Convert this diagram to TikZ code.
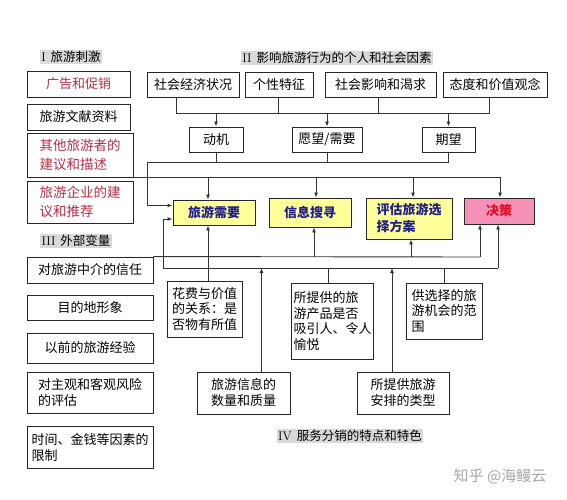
\documentclass[tikz,border=0pt]{standalone}
\usepackage{fontspec}
\newfontfamily\cjk{Noto Sans CJK SC}
\usetikzlibrary{arrows.meta}
\definecolor{boxyellow}{HTML}{FFFF99}
\definecolor{boxblue}{HTML}{1E1E8C}
\definecolor{boxpink}{HTML}{F590B8}
\definecolor{textred}{HTML}{B82C44}
\definecolor{decred}{HTML}{E0102A}
\definecolor{titlegray}{HTML}{D9D9D9}
\begin{document}
\begin{tikzpicture}[x=1pt,y=-1pt,
  box/.style={draw=black!85, line width=0.9pt, inner sep=2pt, align=left, font=\cjk\fontsize{13}{16}\selectfont},
  redbox/.style={box, text=textred},
  title/.style={fill=titlegray, inner sep=1.5pt, font=\cjk\fontsize{12.5}{14}\selectfont},
  mainbox/.style={box, fill=boxyellow, text=boxblue, font=\cjk\bfseries\fontsize{13}{17}\selectfont},
  link/.style={draw=black!80, line width=0.9pt},
  arr/.style={link, -{Latex[length=5pt,width=4pt]}},
]
\useasboundingbox[fill=white] (0,0) rectangle (567,500);

% ---- I stimuli
\node[title] (t1) at (71,57) {\textrm{I}\hspace{0.4em}旅游刺激};
\node[redbox, minimum width=103, minimum height=26] (l1) at (78.5,84) {广告和促销};
\node[box, minimum width=103, minimum height=26] (l2) at (78.5,117) {旅游文献资料};
\node[redbox, minimum width=106, minimum height=44, font=\cjk\fontsize{13.5}{19}\selectfont] (l3) at (80,155) {其他旅游者的\\建议和描述};
\node[redbox, minimum width=106, minimum height=42, font=\cjk\fontsize{13.5}{19}\selectfont] (l4) at (80,202) {旅游企业的建\\议和推荐};

% ---- III external variables
\node[title] (t3) at (76,241) {\textrm{III}\hspace{0.4em}外部变量};
\node[box, minimum width=126, minimum height=26] (e1) at (90,270) {对旅游中介的信任};
\node[box, minimum width=126, minimum height=25] (e2) at (90,307.5) {目的地形象};
\node[box, minimum width=126, minimum height=30] (e3) at (90,348) {以前的旅游经验};
\node[box, minimum width=126, minimum height=41] (e4) at (90,392.5) {对主观和客观风险\\的评估};
\node[box, minimum width=126, minimum height=42] (e5) at (90,447) {时间、金钱等因素的\\限制};

% ---- II personal and social factors
\node[title] (t2) at (337,58) {\textrm{II}\hspace{0.4em}影响旅游行为的个人和社会因素};
\node[box, minimum width=92, minimum height=25] (a1) at (193,84.5) {社会经济状况};
\node[box, minimum width=68, minimum height=25] (a2) at (279,84.5) {个性特征};
\node[box, minimum width=111, minimum height=25] (a3) at (380.5,84.5) {社会影响和渴求};
\node[box, minimum width=104, minimum height=25] (a4) at (495,84.5) {态度和价值观念};

\node[box, minimum width=54, minimum height=25] (m1) at (216,139.5) {动机};
\node[box, minimum width=70, minimum height=25] (m2) at (327,139.5) {愿望/需要};
\node[box, minimum width=53, minimum height=25] (m3) at (448.5,139.5) {期望};

% ---- main process
\node[mainbox, minimum width=82, minimum height=25] (n1) at (214,212.5) {旅游需要};
\node[mainbox, minimum width=82, minimum height=29] (n2) at (310,212.5) {信息搜寻};
\node[mainbox, minimum width=86, minimum height=41] (n3) at (409,218.5) {评估旅游选\\择方案};
\node[mainbox, fill=boxpink, text=decred, minimum width=70, minimum height=26] (n4) at (499,211) {决策};

% ---- IV service distribution
\node[box, minimum width=75, minimum height=56, font=\cjk\fontsize{13}{15.5}\selectfont] (b1) at (204.5,309) {花费与价值\\的关系：是\\否物有所值};
\node[box, minimum width=79, minimum height=76, font=\cjk\fontsize{13}{15.5}\selectfont] (b2) at (332.5,321) {所提供的旅\\游产品是否\\吸引人、令人\\愉悦};
\node[box, minimum width=76, minimum height=56, font=\cjk\fontsize{13}{15.5}\selectfont] (b3) at (444,311) {供选择的旅\\游机会的范\\围};
\node[box, minimum width=93, minimum height=42] (c1) at (243.5,393) {旅游信息的\\数量和质量};
\node[box, minimum width=92, minimum height=42] (c2) at (403,393) {所提供旅游\\安排的类型};
\node[title] (t4) at (350,436) {\textrm{IV}\hspace{0.4em}服务分销的特点和特色};

\node[font=\cjk\fontsize{15}{17}\selectfont, text=black!35] (wm) at (500,476) {知乎 @海鳗云};

% ---- top bus
\coordinate (tbL) at (176,113);
\coordinate (tb2) at (278,113);
\coordinate (tb3) at (378,113);
\coordinate (tbR) at (489,113);
\draw[link] (tbL |- a1.south) -- (tbL) -- (tbR) -- (tbR |- a4.south);
\draw[link] (tb2 |- a2.south) -- (tb2);
\draw[link] (tb3 |- a3.south) -- (tb3);
\draw[arr] (m1.north |- tbL) -- (m1.north);
\draw[arr] (m2.north |- tbL) -- (m2.north);
\draw[arr] (m3.north |- tbL) -- (m3.north);

% ---- from motives to tourism need
\coordinate (mb) at (147,162);
\draw[link] (m1.south) -- (m1.south |- mb);
\draw[link] (m2.south) -- (m2.south |- mb);
\draw[arr] (m3.south) -- (m3.south |- mb) -- (mb) |- ([yshift=7pt]n1.west);

% ---- stimuli line
\coordinate (sbR) at (500,178);
\draw[link] (l3.south east) -- (sbR |- l3.south east);
\coordinate (n1t) at ([xshift=-6pt]n1.north);
\coordinate (n2t) at ([xshift=6pt]n2.north);
\coordinate (n3t) at ([xshift=4pt]n3.north);
\draw[arr] (n1t |- l3.south east) -- (n1t);
\draw[arr] (n2t |- l3.south east) -- (n2t);
\draw[arr] (n3t |- l3.south east) -- (n3t);
\draw[arr] (sbR |- l3.south east) -- (sbR |- n4.north);

% ---- external variables bus (A)
\coordinate (baR) at (480,257);
\draw[link] (e1.north east) -- (baR);
\coordinate (n1s) at ([xshift=-6pt]n1.south);
\coordinate (n2s) at ([xshift=4pt]n2.south);
\coordinate (n3s) at ([xshift=2pt]n3.south);
\draw[arr] (n1s |- b1.north) -- (n1s);
\draw[arr] (n2s |- baR) -- (n2s);
\draw[arr] (n3s |- baR) -- (n3s);
\draw[arr] (baR) -- (baR |- n4.south);

% ---- service bus (B)
\coordinate (bbL) at (163,268);
\coordinate (bbR) at (498,268);
\draw[link] (bbL) -- (bbR);
\draw[arr] (bbL) |- ([yshift=-6.5pt]n1.west);
\draw[arr] (bbR) -- (bbR |- n4.south);
\coordinate (b2t) at ([xshift=-4.5pt]b2.north);
\draw[link] (b2t) -- (b2t |- bbL);
\draw[link] (b3.north) -- (b3.north |- bbL);
\coordinate (c1t) at ([xshift=18pt]c1.north);
\coordinate (c2t) at ([xshift=-11pt]c2.north);
\draw[arr] (c1t) -- (c1t |- bbL);
\draw[arr] (c2t) -- (c2t |- bbL);
\end{tikzpicture}
\end{document}
